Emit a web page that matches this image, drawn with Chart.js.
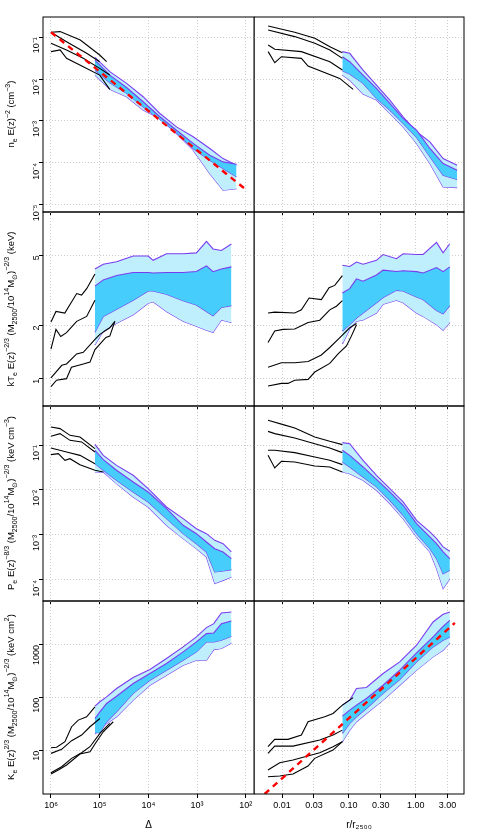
<!DOCTYPE html>
<html><head><meta charset="utf-8">
<script src="https://cdn.jsdelivr.net/npm/chart.js@4/dist/chart.umd.min.js"></script>
<style>
body{margin:0;background:#fff;font-family:"Liberation Sans",Arial,sans-serif;}
#wrap{position:relative;width:483px;height:838px;overflow:hidden;}
canvas{position:absolute;}
.yt{position:absolute;white-space:nowrap;font-size:9.5px;color:#000;transform:translate(-50%,-50%) rotate(-90deg);}
.yt sub,.yt sup{font-size:7px;}
</style></head><body><div id="wrap"></div>
<script>
// ---------- DATA ----------
// Row 1: electron density, left (vs Delta)
const nL_x    = [1.25e5, 6.2e4, 2.8e4, 1.28e4, 5.8e3, 2.64e3, 1.2e3, 547, 292, 155];
const nL_oHi  = [0.0332, 0.0151, 0.0079, 0.0038, 0.00151, 7.2e-4, 4.2e-4, 2.2e-4, 1.26e-4, 8.7e-5];
const nL_oLo  = [0.0125, 0.0057, 0.0038, 0.00182, 0.00115, 5.0e-4, 2.0e-4, 5.5e-5, 2.2e-5, 2.4e-5];
const nL_iHi  = [0.0286, 0.0125, 0.0063, 0.00288, 0.00126, 6.0e-4, 2.9e-4, 1.52e-4, 1.05e-4, 9.2e-5];
const nL_iLo  = [0.0165, 0.0082, 0.00456, 0.00218, 0.00109, 5.2e-4, 2.2e-4, 1.15e-4, 7.3e-5, 4.6e-5];
const nL_blk = [
  {x:[1e6, 6.5e5, 2.5e5, 1e5, 7.2e4], y:[0.132, 0.137, 0.0863, 0.0378, 0.0261]},
  {x:[1e6, 4.8e5, 1.85e5, 1e5], y:[0.132, 0.0787, 0.0414, 0.0261]},
  {x:[1e6, 4.8e5, 2.17e5, 1e5, 6.2e4], y:[0.0718, 0.0498, 0.0314, 0.0181, 0.0125]},
  {x:[1e6, 6.5e5, 4.8e5, 2.17e5, 1e5, 6.2e4], y:[0.0454, 0.0498, 0.0314, 0.0198, 0.0125, 0.0057]}
];
const nL_redX = [1e6, 1e2];
const nL_redY = [0.132, 2.3e-5];
// Row 1 right (vs r/r2500)
const nR_x    = [0.080, 0.103, 0.163, 0.259, 0.41, 0.648, 1.03, 1.63, 2.57, 4.17];
const nR_oHi  = [0.0454, 0.0414, 0.0165, 0.00721, 0.00316, 0.00126, 5.5e-4, 3.17e-4, 1.26e-4, 8.7e-5];
const nR_oLo  = [0.0125, 0.0095, 0.0044, 0.00316, 0.00151, 7.2e-4, 2.9e-4, 9.6e-5, 2.65e-5, 2.55e-5];
const nR_iHi  = [0.0344, 0.0261, 0.0125, 0.0060, 0.00262, 0.00115, 6.0e-4, 2.2e-4, 9.6e-5, 6.6e-5];
const nR_iLo  = [0.0159, 0.0132, 0.0079, 0.00346, 0.00182, 8.7e-4, 4.03e-4, 1.39e-4, 5.05e-5, 3.97e-5];
const nR_blk = [
  {x:[0.0062, 0.0155, 0.031, 0.052, 0.080], y:[0.187, 0.132, 0.0946, 0.0598, 0.0429]},
  {x:[0.0062, 0.0155, 0.031, 0.052, 0.080], y:[0.150, 0.104, 0.0718, 0.0498, 0.0314]},
  {x:[0.0062, 0.0078, 0.0195, 0.052, 0.080], y:[0.0655, 0.0516, 0.0454, 0.0261, 0.0165]},
  {x:[0.0062, 0.0078, 0.0098, 0.0195, 0.0245, 0.073, 0.116], y:[0.0454, 0.0247, 0.0344, 0.0314, 0.0206, 0.0104, 0.0057]}
];
// Row 2: temperature
const tL_x    = [1.25e5, 8.45e4, 4.49e4, 2.05e4, 1.01e4, 7.98e3, 4.24e3, 1.93e3, 1.03e3, 640, 469, 316, 197];
const tL_oHi  = [4.17, 4.44, 4.59, 4.94, 4.94, 4.67, 5.09, 5.09, 5.15, 5.98, 5.42, 5.31, 5.78];
const tL_iHi  = [3.34, 3.62, 3.83, 3.99, 3.99, 3.96, 3.99, 3.99, 4.04, 4.35, 4.03, 4.17, 4.29];
const tL_iLo  = [1.83, 2.25, 2.47, 2.78, 3.13, 3.13, 3.00, 2.76, 2.61, 2.40, 2.27, 2.53, 2.59];
const tL_oLo  = [1.55, 1.86, 2.06, 2.30, 2.67, 2.72, 2.40, 2.11, 1.98, 1.88, 1.83, 2.15, 2.08];
const tL_blk = [
  {x:[1e6, 7.9e5, 5.2e5, 2.97e5, 2.35e5, 1.85e5, 1.25e5], y:[2.09, 2.40, 2.35, 3.03, 2.97, 3.23, 3.91]},
  {x:[1e6, 7.9e5, 6.3e5, 4.8e5, 2.97e5, 1.85e5, 1.25e5], y:[1.47, 1.90, 1.73, 1.82, 2.11, 2.25, 2.78]},
  {x:[1e6, 6.0e5, 4.8e5, 2.97e5, 2.17e5, 1.25e5, 9.9e4, 6.2e4, 4.87e4], y:[1.01, 1.19, 1.21, 1.38, 1.41, 1.67, 1.78, 1.94, 2.11]},
  {x:[1e6, 7.7e5, 4.8e5, 3.8e5, 2.17e5, 1.58e5, 1.25e5, 9.9e4, 7.45e4, 6.2e4, 4.87e4], y:[0.90, 0.98, 1.0, 1.16, 1.21, 1.24, 1.46, 1.57, 1.71, 1.74, 2.11]}
];
const tR_x    = [0.080, 0.103, 0.130, 0.163, 0.259, 0.325, 0.516, 0.648, 1.03, 1.29, 2.05, 2.57, 3.24];
const tR_oHi  = [4.38, 4.31, 4.57, 4.44, 4.67, 5.04, 4.77, 5.09, 5.04, 5.04, 5.90, 5.15, 5.80];
const tR_iHi  = [3.05, 3.23, 3.67, 3.56, 3.86, 4.11, 4.04, 4.08, 4.03, 3.96, 4.25, 4.03, 4.29];
const tR_iLo  = [1.86, 2.02, 2.20, 2.35, 2.69, 2.88, 3.16, 3.13, 2.90, 2.80, 2.43, 2.33, 2.59];
const tR_oLo  = [1.57, 1.91, 2.11, 2.15, 2.35, 2.64, 2.78, 2.69, 2.35, 2.25, 2.02, 1.88, 2.08];
const tR_blk = [
  {x:[0.00618, 0.00778, 0.0155, 0.0195, 0.0254, 0.0388, 0.0506, 0.0615, 0.080], y:[2.35, 2.38, 2.35, 2.45, 2.86, 2.80, 3.27, 3.37, 3.83]},
  {x:[0.00618, 0.00778, 0.0104, 0.0155, 0.0246, 0.0367, 0.0518, 0.0652, 0.080], y:[1.60, 1.86, 1.90, 1.91, 2.08, 2.14, 2.45, 2.57, 2.76]},
  {x:[0.00618, 0.0098, 0.0155, 0.0246, 0.0388, 0.0518, 0.069, 0.103, 0.130], y:[1.16, 1.23, 1.23, 1.25, 1.36, 1.50, 1.67, 1.94, 2.05]},
  {x:[0.00618, 0.0098, 0.0123, 0.0155, 0.0246, 0.0309, 0.0518, 0.069, 0.092, 0.109, 0.130], y:[0.909, 0.94, 0.94, 0.98, 0.99, 1.09, 1.22, 1.38, 1.53, 1.74, 2.02]}
];
// Row 3: pressure
const pL_x    = [1.25e5, 8.43e4, 4.5e4, 2.05e4, 1.01e4, 4.24e3, 1.93e3, 1.03e3, 641, 433, 292, 197];
const pL_oHi  = [0.1035, 0.0589, 0.0353, 0.0212, 0.0107, 0.00419, 0.00231, 0.00138, 0.00107, 7.6e-4, 6.4e-4, 4.19e-4];
const pL_iHi  = [0.076, 0.0472, 0.0274, 0.0151, 0.00903, 0.00385, 0.00164, 0.00107, 6.99e-4, 4.97e-4, 4.19e-4, 2.98e-4];
const pL_iLo  = [0.0385, 0.0274, 0.0164, 0.00903, 0.0054, 0.00231, 0.00107, 6.4e-4, 4.19e-4, 1.51e-4, 1.58e-4, 1.70e-4];
const pL_oLo  = [0.0251, 0.0251, 0.0138, 0.00699, 0.00419, 0.00164, 8.3e-4, 4.97e-4, 3.24e-4, 8.3e-5, 9.8e-5, 1.17e-4];
const pL_blk = [
  {x:[1e6, 6.53e5, 4.07e5, 2.54e5, 1.25e5], y:[0.251, 0.231, 0.164, 0.151, 0.083]},
  {x:[1e6, 6.53e5, 4.07e5, 2.35e5, 1.25e5], y:[0.156, 0.179, 0.127, 0.117, 0.0699]},
  {x:[1e6, 4.78e5, 2.54e5, 1.25e5], y:[0.0858, 0.0699, 0.0589, 0.0385]},
  {x:[1e6, 7.07e5, 5.16e5, 4.07e5, 2.54e5, 1.25e5, 8.43e4], y:[0.061, 0.0642, 0.0456, 0.0497, 0.0366, 0.0274, 0.0251]}
];
const pR_x    = [0.080, 0.103, 0.163, 0.259, 0.41, 0.648, 1.03, 1.63, 2.05, 2.57, 3.24];
const pR_oHi  = [0.113, 0.107, 0.0457, 0.0212, 0.0107, 0.00542, 0.00212, 0.00117, 8.3e-4, 5.42e-4, 4.34e-4];
const pR_iHi  = [0.0762, 0.059, 0.0325, 0.0173, 0.00906, 0.00458, 0.00179, 9.06e-4, 6.44e-4, 4.2e-4, 2.98e-4];
const pR_iLo  = [0.042, 0.0325, 0.0195, 0.0117, 0.0059, 0.00274, 0.00107, 4.97e-4, 2.98e-4, 1.38e-4, 1.64e-4];
const pR_oLo  = [0.0252, 0.0231, 0.0164, 0.00986, 0.00498, 0.00231, 9.06e-4, 4.2e-4, 1.79e-4, 6.43e-5, 1.07e-4];
const pR_blk = [
  {x:[0.00618, 0.0104, 0.0155, 0.0309, 0.0518, 0.080], y:[0.354, 0.284, 0.239, 0.151, 0.121, 0.102]},
  {x:[0.00618, 0.00778, 0.0155, 0.0309, 0.0518, 0.080], y:[0.201, 0.179, 0.143, 0.107, 0.0859, 0.0677]},
  {x:[0.00618, 0.00778, 0.0155, 0.0309, 0.0518, 0.080], y:[0.0762, 0.0762, 0.0677, 0.0542, 0.0457, 0.0366]},
  {x:[0.00618, 0.00778, 0.0098, 0.0155, 0.0309, 0.0518, 0.080], y:[0.059, 0.0309, 0.0435, 0.042, 0.0342, 0.0325, 0.0252]}
];
// Row 4: entropy
const kL_x    = [1.25e5, 9.9e4, 7.2e4, 4.5e4, 2.05e4, 9.3e3, 4.24e3, 1.93e3, 1.03e3, 641, 453, 316, 197];
const kL_oHi  = [69.7, 84.1, 104, 150, 242, 343, 552, 916, 1416, 2123, 2527, 4020, 4200];
const kL_iHi  = [40.7, 54.4, 78.2, 107, 186, 288, 445, 738, 1139, 1636, 1683, 2527, 2838];
const kL_iLo  = [21.9, 21.9, 35.3, 54.4, 121, 215, 333, 514, 738, 1139, 1139, 1225, 1459];
const kL_oLo  = [20.6, 25.3, 32.8, 43.8, 90.3, 173, 268, 413, 514, 514, 816, 853, 1091];
const kL_blk = [
  {x:[1e6, 7.66e5, 5.16e5, 3.77e5, 2.75e5, 1.85e5, 1.25e5], y:[11.4, 11.6, 14.8, 28.4, 37.9, 43.8, 67.6]},
  {x:[1e6, 6.04e5, 3.77e5, 2.35e5, 1.58e5, 9.9e4], y:[8.91, 10.6, 15.5, 19.8, 28.4, 40.7]},
  {x:[1e6, 6.04e5, 3.77e5, 2.35e5, 1.58e5, 9.9e4, 6.2e4], y:[3.85, 4.99, 7.17, 9.17, 11.9, 21.3, 32.8]},
  {x:[1e6, 7.07e5, 4.78e5, 2.54e5, 1.58e5, 1.25e5, 8.43e4, 5.26e4], y:[3.63, 4.32, 5.37, 8.65, 9.57, 13.4, 22.8, 35.3]}
];
const kR_x    = [0.080, 0.103, 0.130, 0.183, 0.325, 0.577, 1.03, 1.82, 2.57, 3.24];
const kR_oHi  = [72.8, 90.3, 150, 157, 288, 478, 986, 2716, 3790, 4200];
const kR_iHi  = [45.1, 58.5, 72.8, 97.1, 173, 333, 706, 1416, 2249, 2918];
const kR_iLo  = [21.3, 32.8, 43.8, 62.9, 121, 222, 478, 916, 1225, 1416];
const kR_oLo  = [14.8, 24.5, 35.3, 50.6, 90.3, 173, 333, 594, 793, 1091];
const kR_blk = [
  {x:[0.00617, 0.00777, 0.0123, 0.0195, 0.0245, 0.0436, 0.058, 0.080, 0.116], y:[11.9, 16.4, 16.4, 19.8, 35.3, 43.8, 50.6, 72.8, 101]},
  {x:[0.00617, 0.00777, 0.0146, 0.0367, 0.058, 0.080], y:[8.91, 12.2, 12.2, 15.9, 19.8, 24.5]},
  {x:[0.00617, 0.00923, 0.0146, 0.0367, 0.058, 0.080], y:[4.32, 5.94, 6.67, 9.17, 11.9, 14.8]},
  {x:[0.00617, 0.00923, 0.0146, 0.0245, 0.0308, 0.058, 0.080], y:[3.23, 3.32, 3.63, 5.14, 7.17, 10.3, 14.8]}
];
const kR_redX = [0.0055, 3.85];
const kR_redY = [1.52, 2600];
// Tick labels
const xTicksL = [1e6, 1e5, 1e4, 1e3, 1e2];
const xLabelsL = ['10\u2076','10\u2075','10\u2074','10\u00b3','10\u00b2'];
const xTicksR = [0.01, 0.03, 0.1, 0.3, 1, 3];
const xLabelsR = ['0.01','0.03','0.10','0.30','1.00','3.00'];
const yTicks1 = [1e-1,1e-2,1e-3,1e-4,1e-5];
const yLabels1 = ['10\u207b\u00b9','10\u207b\u00b2','10\u207b\u00b3','10\u207b\u2074','10\u207b\u2075'];
const yTicks2 = [1,2,5];
const yLabels2 = ['1','2','5'];
const yTicks3 = [1e-1,1e-2,1e-3,1e-4];
const yLabels3 = ['10\u207b\u00b9','10\u207b\u00b2','10\u207b\u00b3','10\u207b\u2074'];
const yTicks4 = [10,100,1000];
const yLabels4 = ['10','100','1000'];

// ---------- STYLE / LAYOUT ----------
const LIGHT='#bfeefc', DARK='#46cdfb', PURPLE='#7b3cf0';
const rows=[[17,211.7],[211.7,405.7],[405.7,600.7],[600.7,794]];
const yRange=[[6.65e-6,0.306],[0.736,8.77],[3.41e-5,0.736],[1.52,6761]];
const yT=[[yTicks1,yLabels1],[yTicks2,yLabels2],[yTicks3,yLabels3],[yTicks4,yLabels4]];
const wrap=document.getElementById('wrap');
const frame={id:'frame',afterDraw(c){const a=c.chartArea,x=c.ctx;x.save();x.strokeStyle='#000';x.lineWidth=1;x.strokeRect(a.left,a.top,a.right-a.left,a.bottom-a.top);x.restore();}};
const pts=(xs,ys)=>xs.map((v,i)=>({x:v,y:ys[i]}));
function ds(xs,oHi,oLo,iHi,iLo,blk,red){
  const L={showLine:true,pointRadius:0,borderWidth:1.1,tension:0};
  const out=[
    Object.assign({},L,{data:pts(xs,oHi),fill:'+1',backgroundColor:LIGHT,borderColor:PURPLE,order:5}),
    Object.assign({},L,{data:pts(xs,oLo),fill:false,borderColor:PURPLE,order:5}),
    Object.assign({},L,{data:pts(xs,iHi),fill:'+1',backgroundColor:DARK,borderColor:PURPLE,order:4}),
    Object.assign({},L,{data:pts(xs,iLo),fill:false,borderColor:PURPLE,order:4})];
  blk.forEach(b=>out.push(Object.assign({},L,{data:pts(b.x,b.y),fill:false,borderColor:'#000',order:2})));
  if(red) out.push(Object.assign({},L,{data:pts(red[0],red[1]),fill:false,borderColor:'#ff0000',borderWidth:2.4,borderDash:[6,5],order:1}));
  return out;
}
const panels=[
 [0,0,ds(nL_x,nL_oHi,nL_oLo,nL_iHi,nL_iLo,nL_blk,[nL_redX,nL_redY])],
 [0,1,ds(nR_x,nR_oHi,nR_oLo,nR_iHi,nR_iLo,nR_blk,null)],
 [1,0,ds(tL_x,tL_oHi,tL_oLo,tL_iHi,tL_iLo,tL_blk,null)],
 [1,1,ds(tR_x,tR_oHi,tR_oLo,tR_iHi,tR_iLo,tR_blk,null)],
 [2,0,ds(pL_x,pL_oHi,pL_oLo,pL_iHi,pL_iLo,pL_blk,null)],
 [2,1,ds(pR_x,pR_oHi,pR_oLo,pR_iHi,pR_iLo,pR_blk,null)],
 [3,0,ds(kL_x,kL_oHi,kL_oLo,kL_iHi,kL_iLo,kL_blk,null)],
 [3,1,ds(kR_x,kR_oHi,kR_oLo,kR_iHi,kR_iLo,kR_blk,[kR_redX,kR_redY])]
];
const FONT={family:'"Liberation Sans", Arial, sans-serif',size:9};
const GRID={color:'#cccccc',lineWidth:1,drawTicks:true,tickLength:4,tickColor:'#000'};
panels.forEach(([r,c,datasets])=>{
  const bottom=r===3;
  const [t0,t1]=rows[r];
  const padT=10, axH=bottom?37:0, padB=bottom?0:10;
  const top=Math.round(t0)-padT;
  const H=Math.round(t1)-Math.round(t0)+padT+padB+axH;
  const left=c===0?0:254, W=c===0?255:229;
  const cv=document.createElement('canvas');
  cv.width=W;cv.height=H;cv.style.left=left+'px';cv.style.top=top+'px';
  cv.style.width=W+'px';cv.style.height=H+'px';
  wrap.appendChild(cv);
  const xt=c===0?[xTicksL,xLabelsL]:[xTicksR,xLabelsR];
  new Chart(cv,{type:'scatter',data:{datasets},plugins:[frame],
   options:{responsive:false,animation:false,events:[],
    layout:{padding:{top:padT,bottom:padB,left:0,right:c===0?1:19}},
    plugins:{legend:{display:false},tooltip:{enabled:false}},
    scales:{
     x:{type:'logarithmic',reverse:c===0,min:c===0?67.6:0.00381,max:c===0?1.459e6:5.28,
        afterBuildTicks:s=>{s.ticks=xt[0].map(v=>({value:v}));},
        afterFit:s=>{s.height=axH;},
        grid:GRID,border:{display:false,dash:[1,2]},
        ticks:{display:bottom,autoSkip:false,maxRotation:0,minRotation:0,color:'#000',font:FONT,padding:2,
          callback:(v,i)=>xt[1][i]},
        title:{display:bottom,text:c===0?'\u0394':'r/r\u2082\u2085\u2080\u2080',color:'#000',font:{family:FONT.family,size:10},padding:{top:4,bottom:0}}},
     y:{type:'logarithmic',min:yRange[r][0],max:yRange[r][1],
        afterBuildTicks:s=>{s.ticks=yT[r][0].map(v=>({value:v}));},
        afterFit:s=>{s.width=c===0?43:0;},
        grid:Object.assign({},GRID,{drawTicks:c===0}),border:{display:false,dash:[1,2]},
        ticks:{display:c===0,autoSkip:false,minRotation:90,maxRotation:90,color:'#000',font:FONT,padding:2,
          callback:(v,i)=>yT[r][1][i]}}
    }}});
});
// y-axis titles
const titles=[
 'n<sub>e</sub> E(z)<sup>\u22122</sup> (cm<sup>\u22123</sup>)',
 'kT<sub>e</sub> E(z)<sup>\u22122/3</sup> (M<sub>2500</sub>/10<sup>14</sup>M<sub>\u2299</sub>)<sup>\u22122/3</sup> (keV)',
 'P<sub>e</sub> E(z)<sup>\u22128/3</sup> (M<sub>2500</sub>/10<sup>14</sup>M<sub>\u2299</sub>)<sup>\u22122/3</sup> (keV cm<sup>\u22123</sup>)',
 'K<sub>e</sub> E(z)<sup>2/3</sup> (M<sub>2500</sub>/10<sup>14</sup>M<sub>\u2299</sub>)<sup>\u22122/3</sup> (keV cm<sup>2</sup>)'];
titles.forEach((h,i)=>{const d=document.createElement('div');d.className='yt';d.innerHTML=h;
 d.style.left='11px';d.style.top=((rows[i][0]+rows[i][1])/2)+'px';wrap.appendChild(d);});
</script></body></html>
